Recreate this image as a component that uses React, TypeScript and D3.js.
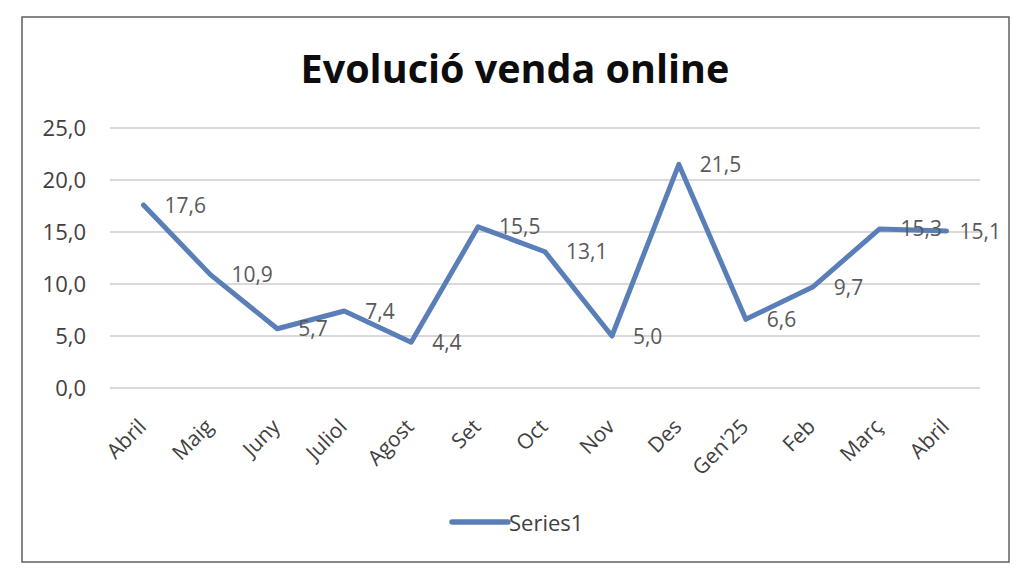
import React from "react";
import * as d3 from "d3";

const title = "Evolució venda online";
const categories = ["Abril", "Maig", "Juny", "Juliol", "Agost", "Set", "Oct", "Nov", "Des", "Gen'25", "Feb", "Març", "Abril"];
const values = [17.6, 10.9, 5.7, 7.4, 4.4, 15.5, 13.1, 5.0, 21.5, 6.6, 9.7, 15.3, 15.1];
const yTicks = [0, 5, 10, 15, 20, 25];
const seriesName = "Series1";

const W = 1024;
const H = 578;
const FONT = "'Open Sans', 'DejaVu Sans', sans-serif";
const LINE = "#5a7fb8";

export default function App() {
  const left = 110, right = 980, top = 128, bottom = 388;
  const labelLimit = 1001;
  const x = d3.scaleBand<number>().domain(categories.map((_, i) => i)).range([left, right]);
  const cx = (i: number) => (x(i) as number) + x.bandwidth() / 2;
  const y = d3.scaleLinear().domain([0, 25]).range([bottom, top]);
  const fmt = (v: number) => d3.format(".1f")(v).replace(".", ",");
  const line = d3.line<number>().x((_, i) => cx(i)).y((d) => y(d));
  const estWidth = (s: string) => s.length * 10.6;

  return (
    <svg width={W} height={H} style={{ position: "absolute", left: 0, top: 0, background: "#fff" }}>
      <rect x={0} y={0} width={W} height={H} fill="#fff" />
      <rect x={22} y={17} width={987} height={545} fill="#fff" stroke="#5f5f5f" strokeWidth={1.5} />
      <text x={515} y={83} textAnchor="middle" fontFamily={FONT} fontWeight={700} fontSize={39.5} fill="#0d0d0d">
        {title}
      </text>
      {yTicks.map((t) => (
        <g key={t}>
          <line x1={left} x2={right} y1={y(t)} y2={y(t)} stroke="#d9d9d9" strokeWidth={2} />
          <text x={86} y={y(t)} dy="0.36em" textAnchor="end" fontFamily={FONT} fontSize={22} fill="#404040">
            {fmt(t)}
          </text>
        </g>
      ))}
      {categories.map((c, i) => (
        <text
          key={i}
          transform={`translate(${cx(i) + 4},${428}) rotate(-45)`}
          textAnchor="end"
          fontFamily={FONT}
          fontSize={21}
          fill="#404040"
        >
          {c}
        </text>
      ))}
      <path d={line(values) || ""} fill="none" stroke={LINE} strokeWidth={5} strokeLinejoin="round" strokeLinecap="round" />
      {values.map((v, i) => {
        const s = fmt(v);
        const overflow = cx(i) + 21 + estWidth(s) > labelLimit;
        return (
          <text
            key={i}
            x={overflow ? labelLimit : cx(i) + 21}
            y={y(v)}
            dy="0.36em"
            textAnchor={overflow ? "end" : "start"}
            fontFamily={FONT}
            fontSize={21}
            fill="#595959"
          >
            {s}
          </text>
        );
      })}
      <line x1={452} x2={508} y1={522} y2={522} stroke={LINE} strokeWidth={5.5} strokeLinecap="round" />
      <text x={509} y={531} fontFamily={FONT} fontSize={22} fill="#404040">
        {seriesName}
      </text>
    </svg>
  );
}
